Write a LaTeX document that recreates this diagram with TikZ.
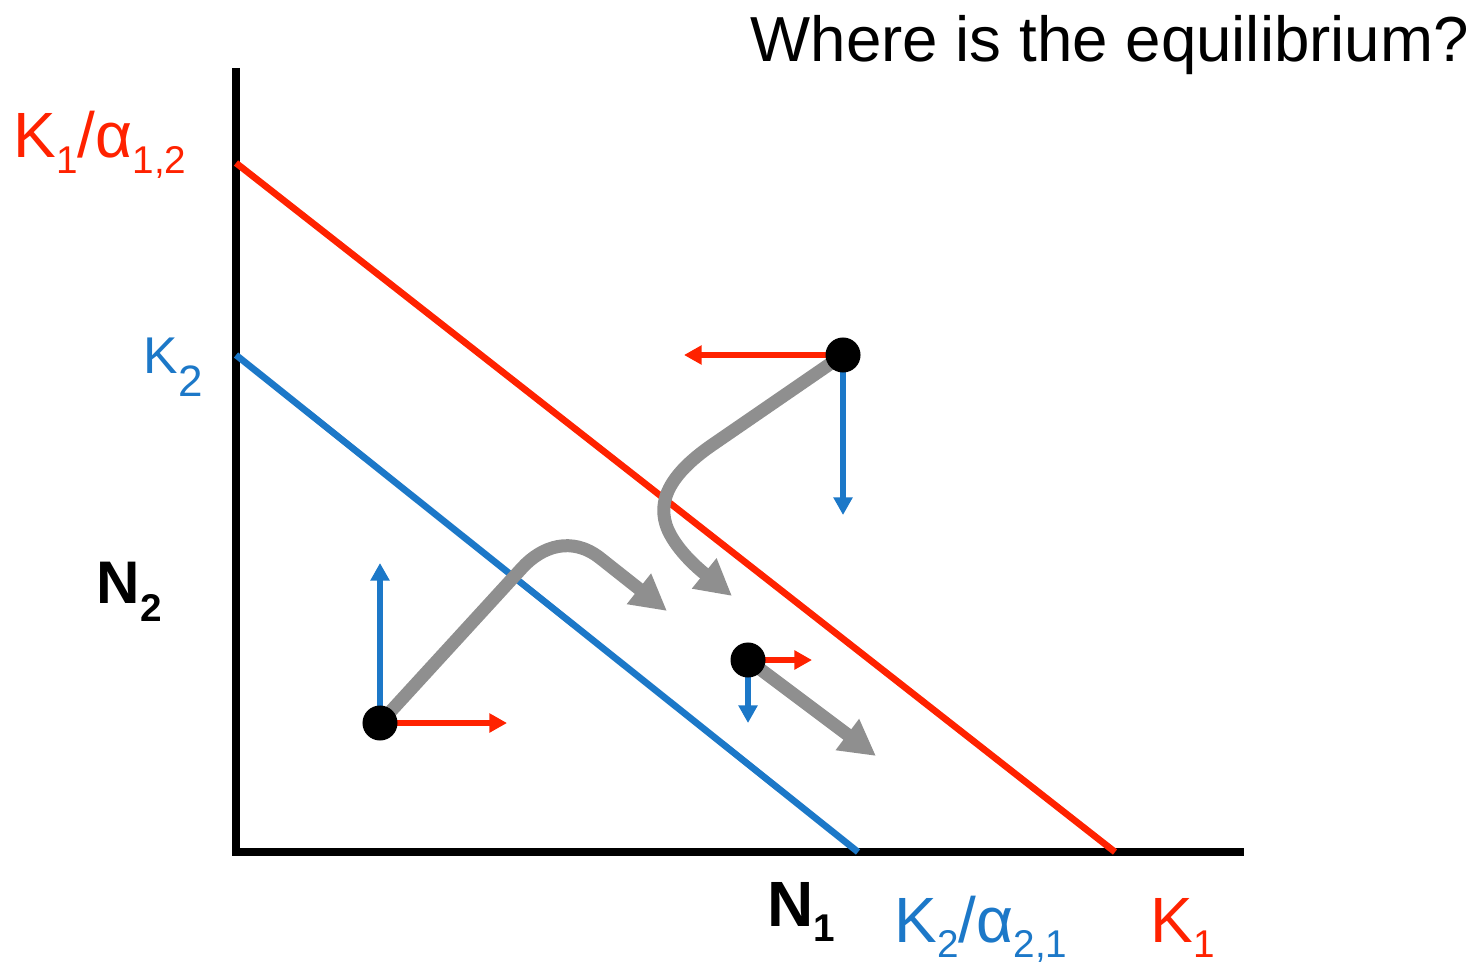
\documentclass[tikz,border=0pt]{standalone}
\usepackage{fontspec}
\setmainfont{Liberation Sans}
\usetikzlibrary{arrows.meta}
\definecolor{cred}{RGB}{255,34,0}
\definecolor{cblue}{RGB}{28,120,200}
\definecolor{cgray}{RGB}{143,143,143}
\newcommand{\lsub}[3]{\raisebox{-#2}{\fontsize{#1}{#1}\selectfont #3}}
\begin{document}
\begin{tikzpicture}[x=0.01cm,y=-0.01cm,
  lbl/.style={inner sep=0pt,anchor=base west},
  axis/.style={line width=2.3pt,black},
  iso/.style={line width=1.9pt},
  dot/.style={circle,fill=black,minimum size=0.35cm,inner sep=0pt},
  small/.style={line width=1.5pt,-{Triangle[length=5pt,width=5.2pt]}},
  traj/.style={line width=3.7pt,cgray,-{Triangle[length=10.2pt,width=10.4pt]}}]
\useasboundingbox (0,0) rectangle (1480,961);
% axes
\coordinate (ytop) at (236,68);
\coordinate (orig) at (236,852);
\coordinate (xend) at (1244,852);
\draw[axis] (ytop) -- (orig) -- (xend);
% isoclines
\coordinate (r1) at (236,163);
\coordinate (r2) at (1115,852);
\coordinate (b1) at (236,355);
\coordinate (b2) at (858,852);
\draw[iso,cred] (r1) -- (r2);
\draw[iso,cblue] (b1) -- (b2);
% labels
\node[lbl] (title) at (750,62) {\fontsize{18.1pt}{20pt}\selectfont Where is the equilibrium?};
\node[lbl,text=cred] (k1a) at (13,158) {\fontsize{18.2pt}{20pt}\selectfont K\lsub{11pt}{4.3pt}{1}/α\lsub{11pt}{4.3pt}{1,2}};
\node[lbl,text=cblue] (k2l) at (143,373) {\fontsize{14.7pt}{16pt}\selectfont K\lsub{12.5pt}{6.8pt}{2}};
\node[lbl] (n2) at (96,603) {\fontsize{17.1pt}{19pt}\selectfont\bfseries N\lsub{11pt}{5.4pt}{2}};
\node[lbl] (n1) at (767,926) {\fontsize{18.2pt}{20pt}\selectfont\bfseries N\lsub{11pt}{4.5pt}{1}};
\node[lbl,text=cblue] (k2a) at (894,942) {\fontsize{18.2pt}{20pt}\selectfont K\lsub{11pt}{4.3pt}{2}/α\lsub{11pt}{4.3pt}{2,1}};
\node[lbl,text=cred] (k1) at (1150,942) {\fontsize{18.2pt}{20pt}\selectfont K\lsub{11pt}{4.3pt}{1}};
% points
\coordinate (p1) at (380,723);
\coordinate (p2) at (843,355);
\coordinate (p3) at (748,660);
\coordinate (p1u) at (380,563);
\coordinate (p1r) at (507,723);
\coordinate (p2l) at (684,355);
\coordinate (p2d) at (843,515);
\coordinate (p3r) at (812,660);
\coordinate (p3d) at (748,723);
\coordinate (t1) at (667,611);
\coordinate (t2) at (732,596);
\coordinate (t3) at (876,756);
% trajectories
\draw[traj] (p1) -- (522,568) .. controls (542,546) and (572,536) .. (600,558) -- (t1);
\draw[traj] (p2) -- (715,443) .. controls (672,472) and (655,500) .. (668,530) .. controls (678,552) and (700,570) .. (t2);
\draw[traj] (p3) -- (t3);
% component arrows
\draw[small,cblue] (p1) -- (p1u);
\draw[small,cred] (p1) -- (p1r);
\draw[small,cred] (p2) -- (p2l);
\draw[small,cblue] (p2) -- (p2d);
\draw[small,cred] (p3) -- (p3r);
\draw[small,cblue] (p3) -- (p3d);
% dots
\node[dot] (d1) at (p1) {};
\node[dot] (d2) at (p2) {};
\node[dot] (d3) at (p3) {};
\end{tikzpicture}
\end{document}
